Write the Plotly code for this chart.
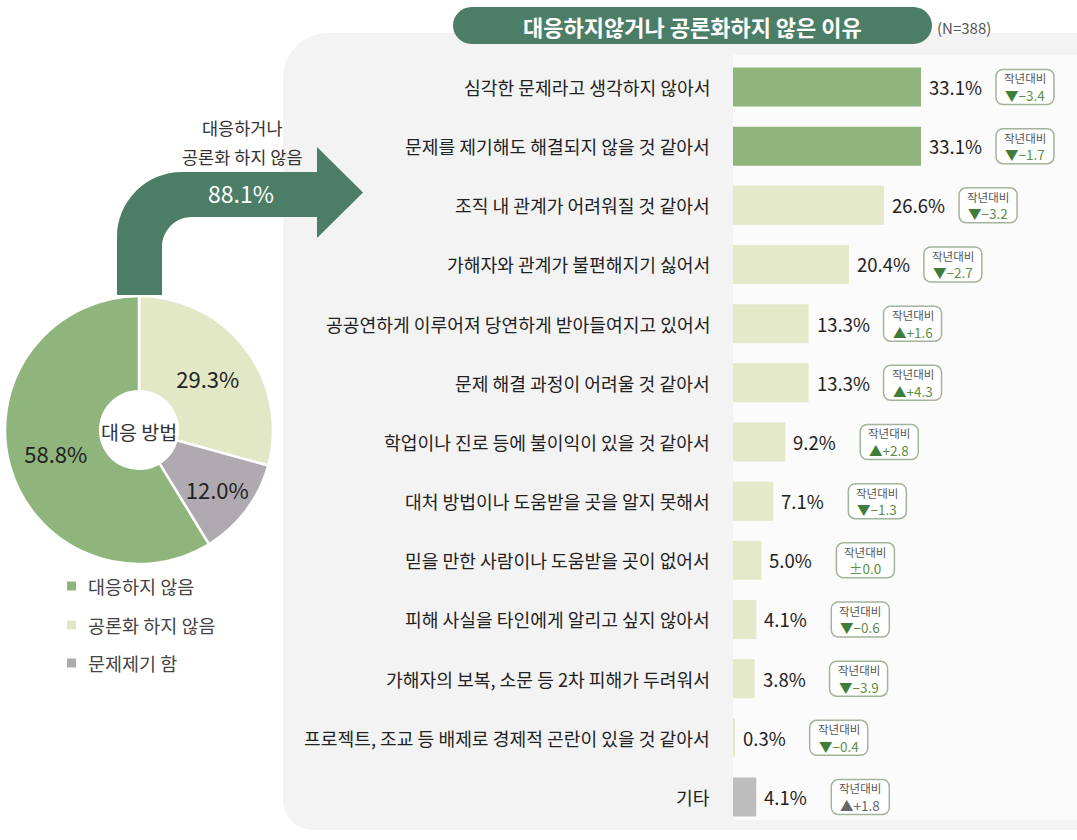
import plotly.graph_objects as go

W, H = 1077, 840
FONT = "Noto Sans CJK KR"

# 대응 방법 (pie)
methods = ['대응하지 않음', '공론화 하지 않음', '문제제기 함']
method_share = [58.8, 29.3, 12.0]
method_colors = ['#8fb47c', '#e2e8c6', '#aeaaaf']
not_acted_total = 88.1

# 대응하지 않거나 공론화하지 않은 이유 (bars)
reasons = [
    '심각한 문제라고 생각하지 않아서',
    '문제를 제기해도 해결되지 않을 것 같아서',
    '조직 내 관계가 어려워질 것 같아서',
    '가해자와 관계가 불편해지기 싫어서',
    '공공연하게 이루어져 당연하게 받아들여지고 있어서',
    '문제 해결 과정이 어려울 것 같아서',
    '학업이나 진로 등에 불이익이 있을 것 같아서',
    '대처 방법이나 도움받을 곳을 알지 못해서',
    '믿을 만한 사람이나 도움받을 곳이 없어서',
    '피해 사실을 타인에게 알리고 싶지 않아서',
    '가해자의 보복, 소문 등 2차 피해가 두려워서',
    '프로젝트, 조교 등 배제로 경제적 곤란이 있을 것 같아서',
    '기타',
]
reason_share = [33.1, 33.1, 26.6, 20.4, 13.3, 13.3, 9.2, 7.1, 5.0, 4.1, 3.8, 0.3, 4.1]
yoy_change = [-3.4, -1.7, -3.2, -2.7, 1.6, 4.3, 2.8, -1.3, 0.0, -0.6, -3.9, -0.4, 1.8]
bar_colors = ['#8fb47c'] * 2 + ['#e4e9c9'] * 10 + ['#bdbdbd']
sample_n = 388


def paper(x, y):
    return f"{x / W:.5f},{1 - y / H:.5f}"


def plain(x, y):
    return f"{x:.2f},{y:.2f}"


def round_rect(x0, y0, x1, y1, rtl, rtr, rbr, rbl, conv):
    k = 0.5523
    return (
        f"M {conv(x0 + rtl, y0)} L {conv(x1 - rtr, y0)} "
        f"C {conv(x1 - rtr + k * rtr, y0)} {conv(x1, y0 + rtr - k * rtr)} {conv(x1, y0 + rtr)} "
        f"L {conv(x1, y1 - rbr)} "
        f"C {conv(x1, y1 - rbr + k * rbr)} {conv(x1 - rbr + k * rbr, y1)} {conv(x1 - rbr, y1)} "
        f"L {conv(x0 + rbl, y1)} "
        f"C {conv(x0 + rbl - k * rbl, y1)} {conv(x0, y1 - rbl + k * rbl)} {conv(x0, y1 - rbl)} "
        f"L {conv(x0, y0 + rtl)} "
        f"C {conv(x0, y0 + rtl - k * rtl)} {conv(x0 + rtl - k * rtl, y0)} {conv(x0 + rtl, y0)} Z"
    )


fig = go.Figure()

# pie, clockwise from 12 o'clock: 공론화 -> 문제제기 -> 대응하지 않음
order = [1, 2, 0]
fig.add_trace(go.Pie(
    labels=[methods[i] for i in order],
    values=[method_share[i] for i in order],
    text=[f"{method_share[i]:.1f}%" for i in order],
    marker=dict(colors=[method_colors[i] for i in order], line=dict(color='white', width=2.5)),
    textinfo='text', textposition='inside', insidetextorientation='horizontal',
    textfont=dict(size=22, color='#222', family=FONT),
    hole=0.29, sort=False, direction='clockwise', rotation=0,
    domain=dict(x=[5 / W, 273 / W], y=[1 - 564 / H, 1 - 296 / H]),
    showlegend=False, hoverinfo='label+value',
))

rows = list(range(len(reasons)))
fig.add_trace(go.Bar(
    x=reason_share, y=rows, orientation='h', width=0.66,
    marker=dict(color=bar_colors, line=dict(width=0)),
    showlegend=False, hoverinfo='x',
))

px_per_unit = 5.68
row_top, row_bot = 87, 797
half = (row_bot - row_top) / 24

fig.update_layout(
    width=W, height=H, margin=dict(l=0, r=0, t=0, b=0),
    paper_bgcolor='white', plot_bgcolor='rgba(0,0,0,0)',
    font=dict(family=FONT, color='#222'),
    xaxis=dict(domain=[733 / W, 1], range=[0, (W - 733) / px_per_unit],
               visible=False, fixedrange=True),
    yaxis=dict(domain=[1 - (row_bot + half) / H, 1 - (row_top - half) / H],
               range=[len(reasons) - 0.5, -0.5], visible=False, fixedrange=True),
)

shapes = []
# background panel
shapes.append(dict(type='path', xref='paper', yref='paper', layer='below',
                   path=round_rect(283, 33, W, 830, 45, 0, 0, 30, paper),
                   fillcolor='#f3f3f3', line=dict(width=0)))
shapes.append(dict(type='path', xref='paper', yref='paper', layer='below',
                   path=round_rect(733, 55, W, 820, 0, 0, 0, 0, paper),
                   fillcolor='#fbfbfb', line=dict(width=0)))
# title pill
shapes.append(dict(type='path', xref='paper', yref='paper',
                   path=round_rect(453, 7, 932, 44, 18.5, 18.5, 18.5, 18.5, paper),
                   fillcolor='#4c7d66', line=dict(width=0)))

# curved arrow from the pie to the bar panel
k = 0.5523
arrow = (
    f"M {paper(117, 295)} L {paper(117, 237)} "
    f"C {paper(117, 237 - 65 * k)} {paper(182 - 65 * k, 172)} {paper(182, 172)} "
    f"L {paper(317, 172)} L {paper(317, 147)} L {paper(363, 192.5)} "
    f"L {paper(317, 238)} L {paper(317, 217)} L {paper(192, 217)} "
    f"C {paper(192 - 30 * k, 217)} {paper(162, 247 - 30 * k)} {paper(162, 247)} "
    f"L {paper(162, 295)} Z"
)
shapes.append(dict(type='path', xref='paper', yref='paper', path=arrow,
                   fillcolor='#4c7d66', line=dict(width=0)))

# legend squares
legend_rows = [586, 625, 663]
for c, ly in zip(method_colors, legend_rows):
    shapes.append(dict(type='rect', xref='paper', yref='paper',
                       x0=67 / W, x1=76 / W, y0=1 - (ly + 4.5) / H, y1=1 - (ly - 4.5) / H,
                       fillcolor=c, line=dict(width=0)))

# year-on-year badges next to every bar
badge_off = 104
for i, v in enumerate(reason_share):
    shapes.append(dict(type='path', xref='x', yref='y', xsizemode='pixel', ysizemode='pixel',
                       xanchor=v, yanchor=i,
                       path=round_rect(badge_off - 29, -17.5, badge_off + 29, 17.5, 7, 7, 7, 7, plain),
                       fillcolor='white', line=dict(color='#a4b39b', width=1.5)))

annotations = []


def ann(x, y, text, size, color='#222', anchor='center', **kw):
    annotations.append(dict(xref='paper', yref='paper', x=x / W, y=1 - y / H, text=text,
                            showarrow=False, xanchor=anchor, yanchor='middle',
                            font=dict(size=size, color=color, family=FONT), **kw))


ann(692, 26, '<b>대응하지않거나 공론화하지 않은 이유</b>', 22, 'white')
ann(935, 28, f'(N={sample_n})', 15, '#555', anchor='left')
ann(242, 127, '대응하거나', 17.5, '#333')
ann(242, 156, '공론화 하지 않음', 17.5, '#333')
ann(241, 193, f'{not_acted_total}%', 23, 'white')
ann(139, 432, '대응 방법', 19.5, '#333')
for name, ly in zip(methods, legend_rows):
    ann(86, ly, name, 18.5, '#444', anchor='left')

for i, (name, v, d) in enumerate(zip(reasons, reason_share, yoy_change)):
    annotations.append(dict(xref='paper', yref='y', x=712 / W, y=i, text=name, showarrow=False,
                            xanchor='right', yanchor='middle',
                            font=dict(size=18.2, color='#222', family=FONT)))
    annotations.append(dict(xref='x', yref='y', x=v, y=i, text=f'{v:.1f}%', showarrow=False,
                            xanchor='left', yanchor='middle', xshift=6,
                            font=dict(size=18.5, color='#222', family=FONT)))
    is_other = name == '기타'
    arrow_c = '#666' if is_other else '#3f7d3a'
    num_c = '#666' if is_other else '#5c8f45'
    if d > 0:
        line2 = f"<span style='color:{arrow_c}'>▲</span>+{d:.1f}"
    elif d < 0:
        line2 = f"<span style='color:{arrow_c}'>▼</span>−{abs(d):.1f}"
    else:
        line2 = f"±{d:.1f}"
    annotations.append(dict(xref='x', yref='y', x=v, y=i, text='작년대비', showarrow=False,
                            xanchor='center', yanchor='middle', xshift=badge_off, yshift=8.5,
                            font=dict(size=11.5, color='#555', family=FONT)))
    annotations.append(dict(xref='x', yref='y', x=v, y=i, text=line2, showarrow=False,
                            xanchor='center', yanchor='middle', xshift=badge_off, yshift=-8,
                            font=dict(size=13.5, color=num_c, family=FONT)))

fig.update_layout(shapes=shapes, annotations=annotations)

fig.write_html("out.html", config={'displayModeBar': False},
               post_script="document.body.style.margin = '0';")
